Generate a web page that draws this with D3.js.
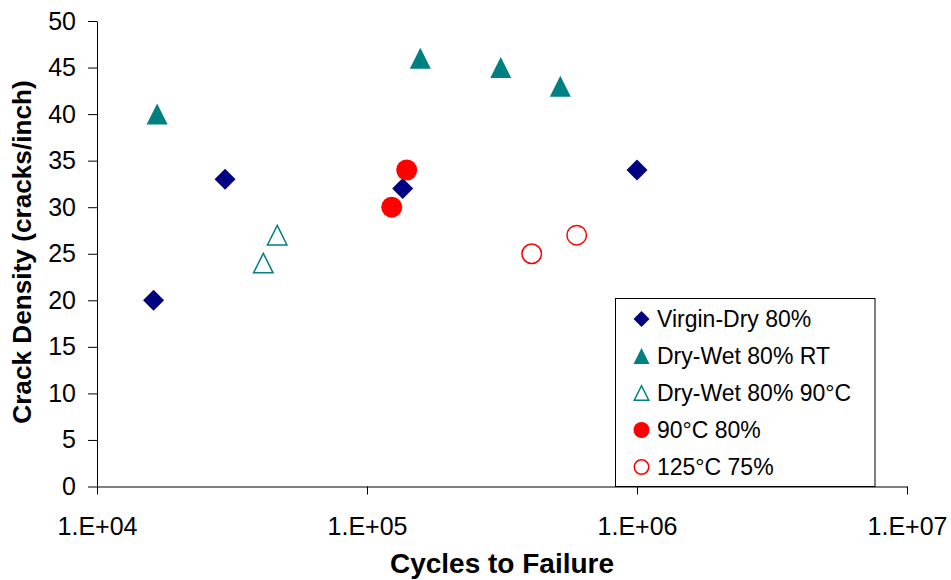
<!DOCTYPE html>
<html>
<head>
<meta charset="utf-8">
<script src="https://cdn.jsdelivr.net/npm/d3@7"></script>
<style>
  html, body { margin: 0; padding: 0; background: #fff; }
  svg { display: block; font-family: "Liberation Sans", Arial, sans-serif; }
</style>
</head>
<body>
<svg id="chart" width="951" height="580"></svg>
<script>
// ---- Data ----
const seriesNames = ["Virgin-Dry 80%", "Dry-Wet 80% RT", "Dry-Wet 80% 90°C", "90°C 80%", "125°C 75%"];
const virginDryCycles = [16200, 29800, 135600, 1000000];
const virginDryDensity = [20, 33, 32, 34];
const dryWetRTCycles = [16700, 157600, 312800, 520000];
const dryWetRTDensity = [40, 46, 45, 43];
const dryWet90Cycles = [41300, 46500];
const dryWet90Density = [24, 27];
const c90Cycles = [123500, 140300];
const c90Density = [30, 34];
const c125Cycles = [407400, 597800];
const c125Density = [25, 27];
const xTickValues = [1e4, 1e5, 1e6, 1e7];
const xTickLabels = ["1.E+04", "1.E+05", "1.E+06", "1.E+07"];
const yTickValues = [0, 5, 10, 15, 20, 25, 30, 35, 40, 45, 50];
const xTitle = "Cycles to Failure";
const yTitle = "Crack Density (cracks/inch)";

const series = [
  { name: seriesNames[0], xs: virginDryCycles, ys: virginDryDensity, shape: "diamond", color: "#000080", filled: true },
  { name: seriesNames[1], xs: dryWetRTCycles, ys: dryWetRTDensity, shape: "triangle", color: "#008080", filled: true },
  { name: seriesNames[2], xs: dryWet90Cycles, ys: dryWet90Density, shape: "triangle", color: "#008080", filled: false },
  { name: seriesNames[3], xs: c90Cycles, ys: c90Density, shape: "circle", color: "#FF0000", filled: true },
  { name: seriesNames[4], xs: c125Cycles, ys: c125Density, shape: "circle", color: "#FF0000", filled: false }
];

// ---- Layout ----
const plot = { left: 97, right: 907, top: 21, bottom: 486.5 };
const svg = d3.select("#chart");

const x = d3.scaleLog().domain([1e4, 1e7]).range([plot.left, plot.right]);
const y = d3.scaleLinear().domain([0, 50]).range([plot.bottom, plot.top]);

function shapePath(shape, s) {
  const h = s / 2;
  if (shape === "diamond") return `M0,${-h}L${h},0L0,${h}L${-h},0Z`;
  if (shape === "triangle") return `M0,${-h}L${h},${h}L${-h},${h}Z`;
  const p = d3.path(); p.arc(0, 0, h, 0, 2 * Math.PI); p.closePath(); return p.toString();
}

function drawMarker(g, s, size) {
  const openSize = size - 1.5;
  g.append("path")
    .attr("d", shapePath(s.shape, s.filled ? size : openSize))
    .attr("fill", s.filled ? s.color : "#fff")
    .attr("stroke", s.filled ? "none" : s.color)
    .attr("stroke-width", s.filled ? 0 : 1.5);
}

// ---- Axes ----
const yAxis = d3.axisLeft(y).tickValues(yTickValues).tickSize(9).tickSizeOuter(0).tickPadding(12);
const gy = svg.append("g").attr("transform", `translate(${plot.left},0)`).call(yAxis);
gy.selectAll("text").attr("font-size", 25).attr("fill", "#000").attr("font-family", "Liberation Sans, Arial, sans-serif");
gy.selectAll("line, path").attr("stroke", "#000").attr("stroke-width", 1);

const xAxis = d3.axisBottom(x).tickValues(xTickValues).tickSize(8).tickSizeOuter(0).tickPadding(23)
  .tickFormat((d, i) => xTickLabels[i]);
const gx = svg.append("g").attr("transform", `translate(0,${plot.bottom})`).call(xAxis);
gx.selectAll("text").attr("font-size", 25).attr("fill", "#000").attr("font-family", "Liberation Sans, Arial, sans-serif");
gx.selectAll("line, path").attr("stroke", "#000").attr("stroke-width", 1);

// ---- Titles ----
svg.append("text")
  .attr("x", (plot.left + plot.right) / 2)
  .attr("y", 573)
  .attr("text-anchor", "middle")
  .attr("font-size", 28)
  .attr("font-weight", "bold")
  .text(xTitle);

svg.append("text")
  .attr("transform", `translate(31,252) rotate(-90)`)
  .attr("text-anchor", "middle")
  .attr("font-size", 26.2)
  .attr("font-weight", "bold")
  .text(yTitle);

// ---- Points ----
series.forEach(s => {
  const pts = s.xs.map((v, i) => ({ cx: v, cy: s.ys[i] }));
  svg.append("g").selectAll("g.pt").data(pts).enter().append("g")
    .attr("class", "pt")
    .attr("transform", d => `translate(${x(d.cx)},${y(d.cy)})`)
    .each(function () { drawMarker(d3.select(this), s, 21); });
});

// ---- Legend ----
const legend = svg.append("g");
legend.append("rect")
  .attr("x", 615.5).attr("y", 298.5)
  .attr("width", 259.5).attr("height", plot.bottom - 298.5)
  .attr("fill", "#fff").attr("stroke", "#000").attr("stroke-width", 1);
const legendY = d3.scalePoint().domain(seriesNames).range([319, 467]);
series.forEach(s => {
  const row = legend.append("g").attr("transform", `translate(641.5,${legendY(s.name)})`);
  drawMarker(row, s, 16);
  row.append("text")
    .attr("x", 15.5).attr("y", 0).attr("dy", "0.36em")
    .attr("font-size", 23)
    .attr("fill", "#000")
    .text(s.name);
});
</script>
</body>
</html>
